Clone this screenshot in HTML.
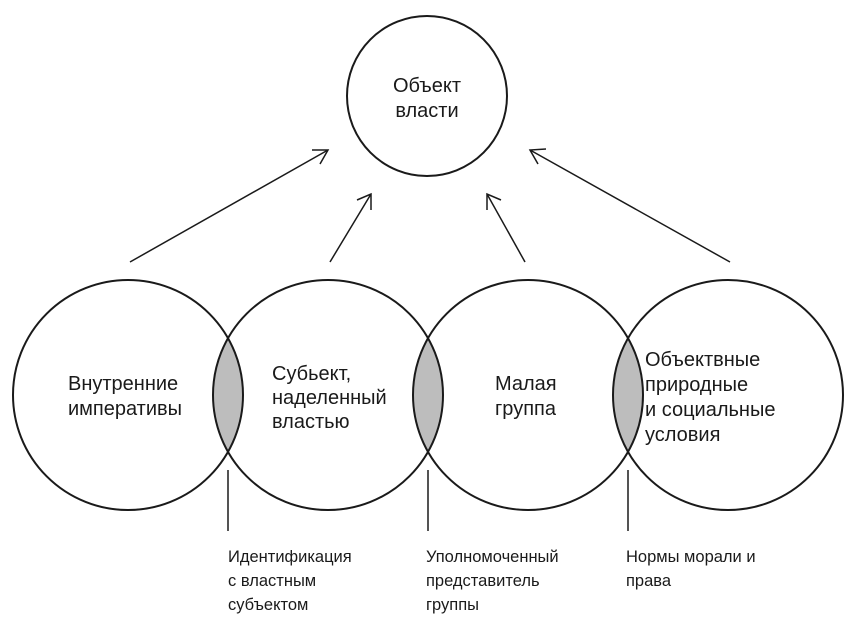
<!DOCTYPE html>
<html><head><meta charset="utf-8"><style>
body{margin:0;background:#fff;}
svg text{font-family:"Liberation Sans","DejaVu Sans",sans-serif;fill:#1a1a1a;}
</style></head><body>
<svg width="857" height="634" viewBox="0 0 857 634" xmlns="http://www.w3.org/2000/svg">
<defs>
<clipPath id="c1"><circle cx="128" cy="395" r="115"/></clipPath>
<clipPath id="c2"><circle cx="328" cy="395" r="115"/></clipPath>
<clipPath id="c3"><circle cx="528" cy="395" r="115"/></clipPath>
</defs>
<g fill="#bdbdbd">
<circle cx="328" cy="395" r="115" clip-path="url(#c1)"/>
<circle cx="528" cy="395" r="115" clip-path="url(#c2)"/>
<circle cx="728" cy="395" r="115" clip-path="url(#c3)"/>
</g>
<g fill="none" stroke="#1a1a1a" stroke-width="2">
<circle cx="427" cy="96" r="80"/>
<circle cx="128" cy="395" r="115"/>
<circle cx="328" cy="395" r="115"/>
<circle cx="528" cy="395" r="115"/>
<circle cx="728" cy="395" r="115"/>
</g>
<g stroke="#1a1a1a" stroke-width="1.5" fill="none">
<line x1="130" y1="262" x2="328" y2="150"/><polyline points="312,150 328,150 320,164"/>
<line x1="330" y1="262" x2="371" y2="194"/><polyline points="357,200 371,194 371,210"/>
<line x1="525" y1="262" x2="487" y2="194"/><polyline points="487,210 487,194 501,200"/>
<line x1="730" y1="262" x2="530" y2="150"/><polyline points="546,149 530,150 538,164"/>
<line x1="228" y1="470" x2="228" y2="531"/>
<line x1="428" y1="470" x2="428" y2="531"/>
<line x1="628" y1="470" x2="628" y2="531"/>
</g>
<g font-size="20">
<text x="427" y="92" text-anchor="middle">Объект</text>
<text x="427" y="117" text-anchor="middle">власти</text>
<text x="68" y="390">Внутренние</text>
<text x="68" y="415">императивы</text>
<text x="272" y="380">Субьект,</text>
<text x="272" y="404">наделенный</text>
<text x="272" y="428">властью</text>
<text x="495" y="390">Малая</text>
<text x="495" y="415">группа</text>
<text x="645" y="366">Объектвные</text>
<text x="645" y="391">природные</text>
<text x="645" y="416">и социальные</text>
<text x="645" y="441">условия</text>
</g>
<g font-size="16.5">
<text x="228" y="562">Идентификация</text>
<text x="228" y="586">с властным</text>
<text x="228" y="610">субъектом</text>
<text x="426" y="562">Уполномоченный</text>
<text x="426" y="586">представитель</text>
<text x="426" y="610">группы</text>
<text x="626" y="562">Нормы морали и</text>
<text x="626" y="586">права</text>
</g>
</svg>
</body></html>
